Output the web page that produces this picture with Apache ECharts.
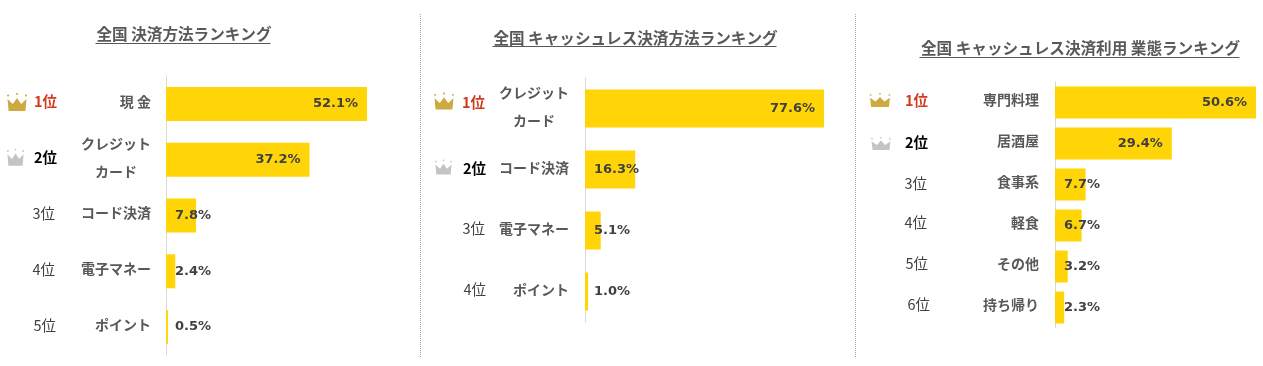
<!DOCTYPE html>
<html><head><meta charset="utf-8">
<style>html,body{margin:0;padding:0;background:#fff}#c{width:1263px;height:366px}</style>
<script src="https://cdn.jsdelivr.net/npm/echarts@6/dist/echarts.min.js"></script>
</head><body><div id="c"></div>
<script>
// ---- data ----
const titles = ['全国 決済方法ランキング','全国 キャッシュレス決済方法ランキング','全国 キャッシュレス決済利用 業態ランキング'];
const ranks1 = ['1位','2位','3位','4位','5位'];
const cats1  = ['現 金','クレジット\nカード　','コード決済','電子マネー','ポイント'];
const vals1  = [52.1,37.2,7.8,2.4,0.5];
const ranks2 = ['1位','2位','3位','4位'];
const cats2  = ['クレジット\nカード　','コード決済','電子マネー','ポイント'];
const vals2  = [77.6,16.3,5.1,1.0];
const ranks3 = ['1位','2位','3位','4位','5位','6位'];
const cats3  = ['専門料理','居酒屋','食事系','軽食','その他','持ち帰り'];
const vals3  = [50.6,29.4,7.7,6.7,3.2,2.3];

// ---- layout / style ----
const FONT = '"Noto Sans CJK JP","Noto Sans",sans-serif';
const panels = [
 {ranks:ranks1,cats:cats1,vals:vals1,left:166,top:76,height:279,width:231.5,max:60,bar:34,rankOff:109,catMargin:15,
  catNudge:5,rankPad:[[0,0,4],[0,0,4],[0,2,4],[0,2,4],[0,1,4]],
  crowns:[[20,18,-149,-2],[17,17,-150.5,-2.5]],titleX:183,titleY:34,ulY:43,ulHalf:87.5},
 {ranks:ranks2,cats:cats2,vals:vals2,left:585,top:78,height:244,width:261.8,max:85,bar:38,rankOff:99,catMargin:16,
  catNudge:4,rankPad:[[0,1,12],[0,0,3],[0,1,4],[0,0,4]],
  crowns:[[20,17,-141,-7.5],[17,15,-141.5,-2.5]],titleX:634.5,titleY:38,ulY:46,ulHalf:142},
 {ranks:ranks3,cats:cats3,vals:vals3,left:1055,top:82,height:246,width:206.6,max:52,bar:32,rankOff:125,catMargin:16,
  catNudge:6,rankPad:[[0,2,5],[0,2,2],[0,3,2],[0,3,6],[0,2,6],[0,0,6]],
  crowns:[[21,14,-175,-2.5],[20,13,-174,0]],titleX:1079.5,titleY:48,ulY:57,ulHalf:160}
];
const crownPath = 'path://M1,6 L6,11 L10,5 L14,11 L19,6 L18,18 L2,18 Z M0.5,2.5 a1,1 0 1,0 2,0 a1,1 0 1,0 -2,0 Z M9,1 a1,1 0 1,0 2,0 a1,1 0 1,0 -2,0 Z M17.5,2.5 a1,1 0 1,0 2,0 a1,1 0 1,0 -2,0 Z';
const crownColors = ['#BF9510','#B5B5B5'];
const rankStyles = [{color:'#D13A1E',fontWeight:'bold'},{color:'#000',fontWeight:'bold'},{color:'#404040',fontWeight:'normal'}];

const grid=[],xAxis=[],yAxis=[],series=[],title=[],graphic=[];
panels.forEach((p,i)=>{
  grid.push({left:p.left,top:p.top,width:p.width,height:p.height,containLabel:false});
  xAxis.push({type:'value',gridIndex:i,min:0,max:p.max,show:false});
  const rich={};
  p.ranks.forEach((r,k)=>{
    const s=rankStyles[Math.min(k,2)], pad=p.rankPad[k];
    rich['r'+k]={fontFamily:FONT,fontSize:14.5,color:s.color,fontWeight:s.fontWeight,padding:[0,pad[1],pad[2],0]};
  });
  yAxis.push({type:'category',gridIndex:i,inverse:true,data:p.cats,position:'left',
    axisLine:{show:true,onZero:false,lineStyle:{color:'#D9D9D9',width:1}},axisTick:{show:false},splitLine:{show:false},
    axisLabel:{interval:0,margin:p.catMargin,align:'right',
      rich:{c:{fontFamily:FONT,fontSize:14,fontWeight:'bold',color:'#595959',lineHeight:28,padding:[0,0,p.catNudge,0]}},
      formatter:v=>v.split('\n').map(t=>'{c|'+t+'}').join('\n')}});
  const rankIdx=yAxis.length;
  yAxis.push({type:'category',gridIndex:i,inverse:true,data:p.ranks,position:'left',offset:p.rankOff,
    axisLine:{show:false},axisTick:{show:false},splitLine:{show:false},
    axisLabel:{interval:0,margin:0,align:'right',rich,formatter:(v,k)=>'{r'+k+'|'+v+'}'}});
  series.push({type:'bar',xAxisIndex:i,yAxisIndex:rankIdx,barWidth:p.bar,silent:true,
    itemStyle:{color:'#FFD507'},
    data:p.vals.map(v=>({value:v,label:{position:v>20?'insideRight':'insideLeft'}})),
    label:{show:true,distance:9,fontFamily:'"DejaVu Sans",sans-serif',fontSize:13,fontWeight:'bold',color:'#404040',formatter:d=>d.value.toFixed(1)+'%'}});
  series.push({type:'scatter',xAxisIndex:i,yAxisIndex:rankIdx,clip:false,silent:true,z:5,symbol:crownPath,
    data:p.crowns.map((c,k)=>({value:[0,k],symbolSize:[c[0],c[1]],symbolOffset:[c[2],c[3]],itemStyle:{color:crownColors[k]}}))});
  title.push({text:titles[i],left:p.titleX-4,top:p.titleY-5,textAlign:'center',textVerticalAlign:'middle',
    textStyle:{fontFamily:FONT,fontSize:15.6,fontWeight:'bold',color:'#595959'}});
  graphic.push({type:'line',silent:true,shape:{x1:p.titleX-p.ulHalf,y1:p.ulY+.5,x2:p.titleX+p.ulHalf,y2:p.ulY+.5},style:{stroke:'#595959',lineWidth:1}});
});
[420.5,855.5].forEach(x=>graphic.push({type:'line',silent:true,shape:{x1:x,y1:14,x2:x,y2:358},style:{stroke:'#A6A6A6',lineWidth:1,lineDash:[1,1]}}));

const chart=echarts.init(document.getElementById('c'),null,{renderer:'canvas'});
chart.setOption({animation:false,backgroundColor:'#fff',title,grid,xAxis,yAxis,series,graphic});
</script></body></html>
